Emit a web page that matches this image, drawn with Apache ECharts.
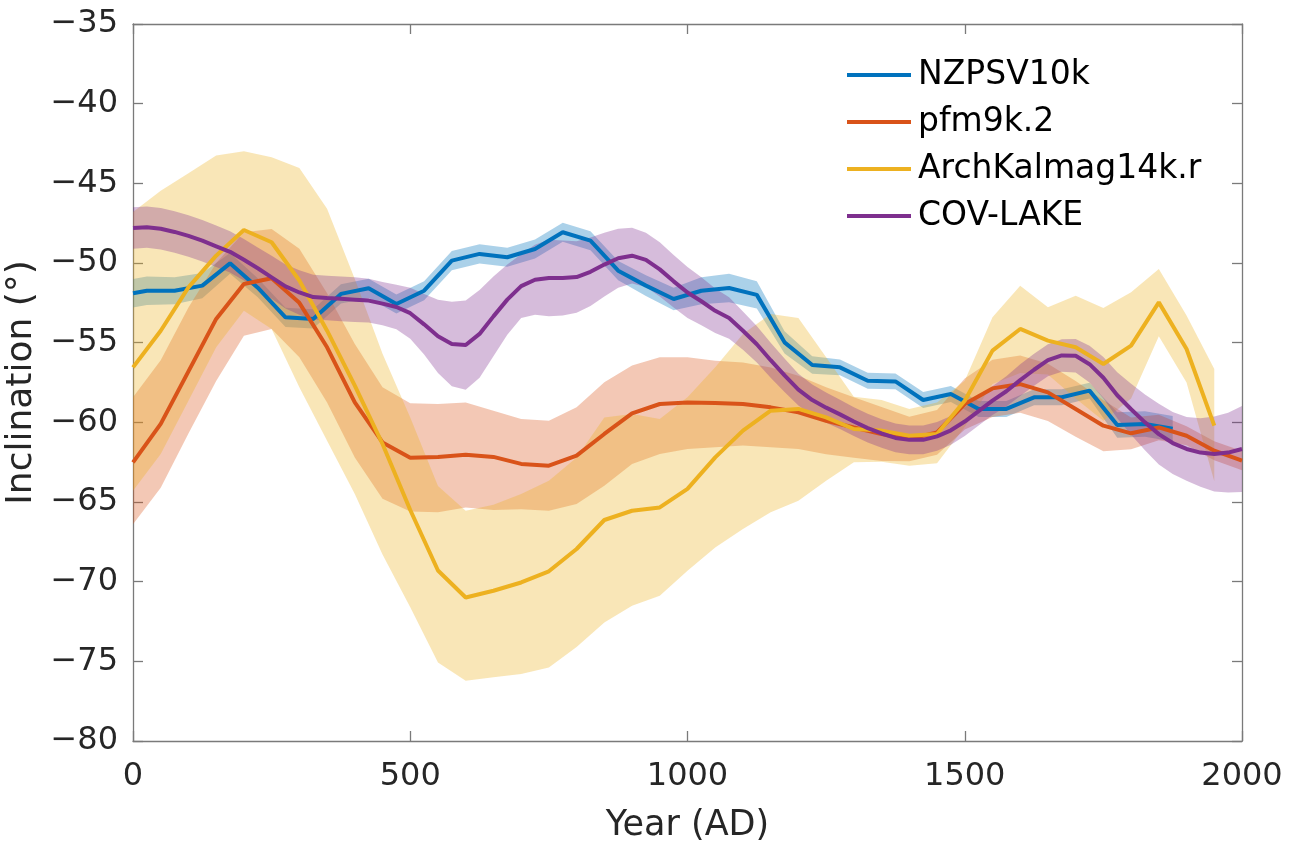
<!DOCTYPE html>
<html>
<head>
<meta charset="utf-8">
<title>Inclination, Year (AD)</title>
<script src="https://cdn.jsdelivr.net/npm/echarts@6/dist/echarts.min.js"></script>
<style>
  html, body { margin: 0; padding: 0; background: #ffffff; }
  #chart { width: 1297px; height: 843px; }
</style>
</head>
<body>
<div id="chart"></div>
<script>
// ---- Data -------------------------------------------------------------
// NZPSV10k: sampled at 25 AD then every 50 years
const nzYears = [0, 25, 75, 125, 175, 225, 275, 325, 375, 425, 475, 525, 575, 625, 675, 725, 775, 825, 875, 925,
  975, 1025, 1075, 1125, 1175, 1225, 1275, 1325, 1375, 1425, 1475, 1525, 1575, 1625, 1675, 1725, 1775, 1825, 1875];
const nzMean = [-51.9, -51.74, -51.74, -51.42, -50.02, -51.55, -53.41, -53.51, -51.94, -51.59, -52.57, -51.74, -49.85,
  -49.43, -49.64, -49.12, -48.07, -48.6, -50.48, -51.42, -52.26, -51.74, -51.57, -52.0, -54.98, -56.4, -56.55, -57.39,
  -57.43, -58.6, -58.22, -59.16, -59.16, -58.43, -58.43, -58.01, -60.17, -60.1, -60.4];
const nzErr = [0.9, 0.9, 0.85, 0.8, 0.65, 0.6, 0.6, 0.6, 0.6, 0.6, 0.6, 0.6, 0.6, 0.6, 0.6, 0.6, 0.6, 0.6, 0.6, 0.65,
  0.7, 0.85, 0.9, 0.85, 0.7, 0.55, 0.5, 0.5, 0.5, 0.5, 0.5, 0.5, 0.5, 0.5, 0.5, 0.5, 0.8, 0.8, 0.8];

// pfm9k.2: every 50 years, 0-2000 AD
const pfmYears = [0, 50, 100, 150, 200, 250, 300, 350, 400, 450, 500, 550, 600, 650, 700, 750, 800, 850, 900, 950,
  1000, 1050, 1100, 1150, 1200, 1250, 1300, 1350, 1400, 1450, 1500, 1550, 1600, 1650, 1700, 1750, 1800, 1850, 1900, 1950, 2000];
const pfmMean = [-62.51, -60.1, -56.8, -53.51, -51.32, -50.96, -52.5, -55.29, -58.75, -61.26, -62.23, -62.17, -62.03,
  -62.17, -62.61, -62.72, -62.09, -60.73, -59.44, -58.85, -58.75, -58.78, -58.85, -59.06, -59.37, -59.9, -60.32, -60.73,
  -61.05, -60.63, -58.85, -57.87, -57.6, -58.12, -59.16, -60.21, -60.69, -60.32, -60.84, -61.78, -62.4];
const pfmUpper = [-58.43, -56.1, -52.8, -50.0, -48.07, -47.86, -49.1, -51.9, -55.08, -57.8, -58.8, -58.85, -58.75,
  -59.27, -59.79, -59.9, -59.06, -57.49, -56.44, -55.92, -55.92, -56.13, -56.25, -56.56, -57.07, -57.8, -58.42, -59.03,
  -59.65, -59.23, -57.25, -56.07, -55.8, -56.32, -57.41, -58.61, -59.69, -59.52, -60.24, -61.18, -61.8];
const pfmLower = [-66.4, -64.1, -60.7, -57.4, -54.56, -54.14, -55.92, -58.75, -62.2, -64.8, -65.6, -65.65, -65.34,
  -65.5, -65.45, -65.55, -65.13, -63.98, -62.61, -61.99, -61.67, -61.57, -61.45, -61.56, -61.67, -62.0, -62.22, -62.43,
  -62.45, -62.03, -60.45, -59.67, -59.4, -59.92, -60.91, -61.81, -61.69, -61.12, -61.44, -62.38, -63.0];

// ArchKalmag14k.r: every 50 years, 0-1950 AD
const akYears = [0, 50, 100, 150, 200, 250, 300, 350, 400, 450, 500, 550, 600, 650, 700, 750, 800, 850, 900, 950,
  1000, 1050, 1100, 1150, 1200, 1250, 1300, 1350, 1400, 1450, 1500, 1550, 1600, 1650, 1700, 1750, 1800, 1850, 1900, 1950];
const akMean = [-56.55, -54.25, -51.53, -49.54, -47.93, -48.7, -51.1, -54.25, -57.7, -61.36,
  -65.5, -69.3, -70.99, -70.57, -70.05, -69.35, -67.95, -66.13, -65.55, -65.34,
  -64.18, -62.2, -60.52, -59.27, -59.16, -59.69, -60.42, -60.52, -60.84, -60.73,
  -58.64, -55.5, -54.14, -54.87, -55.29, -56.34, -55.19, -52.47, -55.4, -60.21];
const akUpper = [-46.8, -45.46, -44.37, -43.26, -42.99, -43.37, -44.04, -46.6, -51.0, -55.7,
  -59.7, -64.0, -65.55, -65.17, -64.5, -63.66, -62.2, -59.69, -59.48, -59.79,
  -58.43, -56.55, -54.45, -53.2, -53.45, -55.92, -58.39, -58.6, -59.16, -58.75,
  -57.39, -53.41, -51.42, -52.78, -52.05, -52.82, -51.84, -50.37, -53.3, -56.65];
const akLower = [-64.3, -61.99, -58.64, -55.29, -53.0, -54.14, -57.8, -61.15, -64.5, -68.3,
  -71.6, -75.07, -76.22, -76.0, -75.8, -75.38, -74.1, -72.56, -71.51, -70.88,
  -69.31, -67.85, -66.7, -65.65, -64.92, -63.66, -62.51, -62.47, -62.72, -62.57,
  -60.3, -57.6, -56.9, -57.0, -58.5, -59.9, -58.5, -54.6, -57.5, -63.7];

// COV-LAKE: every 25 years, 0-2000 AD
const covYears = [0, 25, 50, 75, 100, 125, 150, 175, 200, 225, 250, 275, 300, 325, 350, 375, 400, 425, 450, 475,
  500, 525, 550, 575, 600, 625, 650, 675, 700, 725, 750, 775, 800, 825, 850, 875, 900, 925, 950, 975,
  1000, 1025, 1050, 1075, 1100, 1125, 1150, 1175, 1200, 1225, 1250, 1275, 1300, 1325, 1350, 1375, 1400, 1425, 1450, 1475,
  1500, 1525, 1550, 1575, 1600, 1625, 1650, 1675, 1700, 1725, 1750, 1775, 1800, 1825, 1850, 1875, 1900, 1925, 1950, 1975, 2000];
const covMean = [-47.8, -47.75, -47.85, -48.05, -48.3, -48.6, -48.95, -49.3, -49.8, -50.33, -50.9, -51.47, -51.85, -52.14,
  -52.2, -52.25, -52.3, -52.36, -52.55, -52.76,
  -53.15, -53.85, -54.6, -55.08, -55.15, -54.45, -53.35, -52.3, -51.45, -51.05, -50.94, -50.94, -50.88, -50.55,
  -50.1, -49.7, -49.54, -49.8, -50.4, -51.15,
  -51.85, -52.4, -53.0, -53.45, -54.25, -55.1, -56.1, -57.05, -57.95, -58.6, -59.08, -59.5, -59.95, -60.36,
  -60.7, -60.98, -61.1, -61.1, -60.88, -60.5,
  -59.95, -59.3, -58.64, -58.05, -57.35, -56.7, -56.1, -55.8, -55.82, -56.35, -57.2, -58.3, -59.18, -60.0,
  -60.74, -61.3, -61.67, -61.9, -61.99, -61.9, -61.67];
const covErr = [1.3, 1.3, 1.3, 1.3, 1.3, 1.3, 1.3, 1.3, 1.3, 1.3, 1.35, 1.38, 1.4, 1.4, 1.4, 1.4, 1.4, 1.37, 1.35, 1.4,
  1.6, 1.9, 2.3, 2.65, 2.8, 2.75, 2.5, 2.2, 2.0, 2.2, 2.4, 2.35, 2.25, 2.15, 2.0, 1.85, 1.75, 1.7, 1.7, 1.65,
  1.6, 1.5, 1.4, 1.3, 1.2, 1.15, 1.1, 1.05, 1.0, 0.97, 0.95, 0.92, 0.9, 0.9, 0.9, 0.9, 0.9, 0.9, 0.9, 0.9,
  0.9, 0.9, 0.9, 0.95, 1.0, 1.0, 1.0, 1.02, 1.05, 1.15, 1.3, 1.45, 1.6, 1.75, 1.9, 1.95, 2.0, 2.15, 2.35, 2.5, 2.7];

// Axis ticks
const xTicks = [0, 500, 1000, 1500, 2000];
const yTicks = [-80, -75, -70, -65, -60, -55, -50, -45, -40, -35];

// ---- Styling ----------------------------------------------------------
const COLORS = {
  nz: '#0072BD',
  pfm: '#D95319',
  ak: '#EDB120',
  cov: '#7E2F8E'
};
const FONT = 'DejaVu Sans';
const FRAME = '#7a7a7a';
const TEXT = '#262626';
const LINE_W = 4;

const pairs = (xs, ys) => xs.map((x, i) => [x, ys[i]]);

// Shaded uncertainty band: one closed polygon (upper edge, then lower edge reversed)
function band(xs, lower, upper, color, opacity) {
  return {
    type: 'custom',
    silent: true,
    clip: true,
    z: 1,
    data: [[xs[0], lower[0]]],
    renderItem: function (params, api) {
      const pts = [];
      for (let i = 0; i < xs.length; i++) pts.push(api.coord([xs[i], upper[i]]));
      for (let i = xs.length - 1; i >= 0; i--) pts.push(api.coord([xs[i], lower[i]]));
      return {
        type: 'polygon',
        shape: { points: pts },
        style: { fill: color, opacity: opacity, stroke: null }
      };
    }
  };
}

function meanLine(name, xs, ys, color) {
  return {
    name: name,
    type: 'line',
    data: pairs(xs, ys),
    symbol: 'none',
    smooth: false,
    silent: true,
    lineStyle: { color: color, width: LINE_W },
    itemStyle: { color: color },
    z: 5
  };
}

const nzLower = nzMean.map((v, i) => v - nzErr[i]);
const nzUpper = nzMean.map((v, i) => v + nzErr[i]);
const covLower = covMean.map((v, i) => v - covErr[i]);
const covUpper = covMean.map((v, i) => v + covErr[i]);

const series = [
  band(nzYears, nzLower, nzUpper, COLORS.nz, 0.33),
  band(pfmYears, pfmLower, pfmUpper, COLORS.pfm, 0.32),
  band(akYears, akLower, akUpper, COLORS.ak, 0.32),
  band(covYears, covLower, covUpper, COLORS.cov, 0.32),
  meanLine('NZPSV10k', nzYears, nzMean, COLORS.nz),
  meanLine('pfm9k.2', pfmYears, pfmMean, COLORS.pfm),
  meanLine('ArchKalmag14k.r', akYears, akMean, COLORS.ak),
  meanLine('COV-LAKE', covYears, covMean, COLORS.cov)
];

const minusFmt = v => (v < 0 ? '\u2212' + Math.abs(v) : String(v));

const xBase = {
  type: 'value',
  min: xTicks[0],
  max: xTicks[xTicks.length - 1],
  interval: xTicks[1] - xTicks[0],
  splitLine: { show: false },
  axisLine: { show: true, onZero: false, lineStyle: { color: FRAME, width: 1.3 } },
  axisTick: { show: true, inside: true, length: 10, lineStyle: { color: FRAME, width: 1.3 } }
};
const yBase = {
  type: 'value',
  min: yTicks[0],
  max: yTicks[yTicks.length - 1],
  interval: yTicks[1] - yTicks[0],
  splitLine: { show: false },
  axisLine: { show: true, onZero: false, lineStyle: { color: FRAME, width: 1.3 } },
  axisTick: { show: true, inside: true, length: 10, lineStyle: { color: FRAME, width: 1.3 } }
};

const option = {
  animation: false,
  backgroundColor: '#ffffff',
  grid: { left: 133, right: 55, top: 24, bottom: 102, containLabel: false, outerBoundsMode: 'none' },
  legend: {
    data: ['NZPSV10k', 'pfm9k.2', 'ArchKalmag14k.r', 'COV-LAKE'],
    orient: 'vertical',
    left: 842,
    top: 52,
    icon: 'rect',
    itemWidth: 64,
    itemHeight: 4,
    itemGap: 11,
    selectedMode: false,
    textStyle: { fontFamily: FONT, fontSize: 33, color: '#000000', lineHeight: 36, padding: [0, 0, 0, 2] }
  },
  xAxis: [
    Object.assign({}, xBase, {
      position: 'bottom',
      name: 'Year (AD)',
      nameLocation: 'middle',
      nameGap: 67,
      nameTextStyle: { fontFamily: FONT, fontSize: 35, color: TEXT },
      axisLabel: { fontFamily: FONT, fontSize: 32, color: TEXT, margin: 20, formatter: v => String(v) }
    }),
    Object.assign({}, xBase, { position: 'top', axisLabel: { show: false } })
  ],
  yAxis: [
    Object.assign({}, yBase, {
      position: 'left',
      name: 'Inclination (\u00B0)',
      nameLocation: 'middle',
      nameGap: 76,
      nameTextStyle: { fontFamily: FONT, fontSize: 36, color: TEXT },
      axisLabel: { fontFamily: FONT, fontSize: 32, color: TEXT, margin: 15, formatter: minusFmt }
    }),
    Object.assign({}, yBase, { position: 'right', axisLabel: { show: false } })
  ],
  series: series
};

const chart = echarts.init(document.getElementById('chart'), null, { renderer: 'canvas' });
chart.setOption(option);
</script>
</body>
</html>
